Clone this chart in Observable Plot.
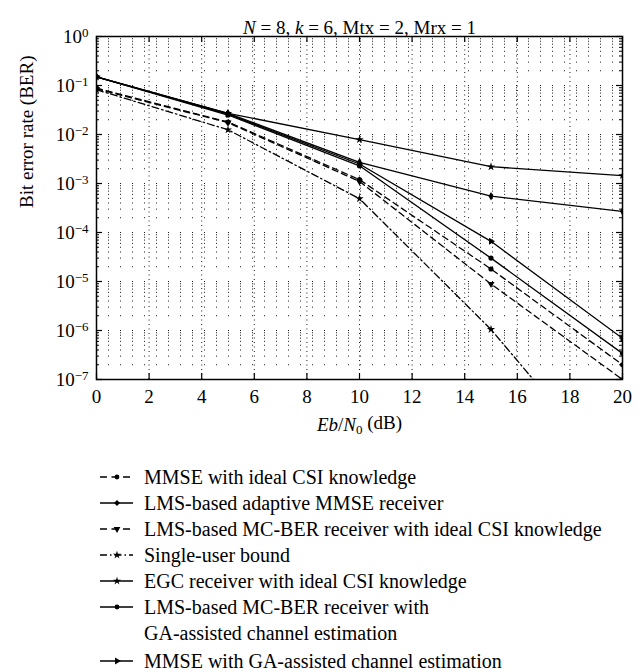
<!DOCTYPE html>
<html><head><meta charset="utf-8">
<script src="https://cdn.jsdelivr.net/npm/d3@7"></script>
<script src="https://cdn.jsdelivr.net/npm/@observablehq/plot@0.6"></script>
<style>
body{margin:0;background:#fff;font-family:"Liberation Serif",serif;color:#000;}
#chart svg{display:block;font-family:"Liberation Serif",serif;}
#legend{margin-top:14px;padding-left:100px;font-size:20px;}
.row{display:flex;align-items:flex-start;line-height:26px;height:26px;}
.row.two{height:52px;}
.row.gap{margin-top:2px;}
.row svg{flex:none;margin-right:10px;}
</style></head><body><div id="chart"></div><div id="legend"></div>
<script>
// ---- data ----
const ebn0 = [0, 5, 10, 15, 20];
const berMMSEIdeal   = [0.088, 0.018, 0.0012, 1.8e-5, 2.0e-7];
const berLMSAdaptive = [0.15, 0.027, 0.0027, 5.5e-4, 2.7e-4];
const berMCBERIdeal  = [0.085, 0.0175, 0.0011, 8.9e-6, 1.0e-7];
const berSingleUser  = [0.082, 0.0125, 4.9e-4, 1.05e-6, 7e-10];
const berEGC         = [0.15, 0.027, 0.0079, 2.2e-3, 1.45e-3];
const berMCBERGA     = [0.15, 0.025, 0.0023, 3.0e-5, 3.4e-7];
const berMMSEGA      = [0.15, 0.026, 0.0025, 6.6e-5, 6.9e-7];

const seriesNames = [
  "MMSE with ideal CSI knowledge",
  "LMS-based adaptive MMSE receiver",
  "LMS-based MC-BER receiver with ideal CSI knowledge",
  "Single-user bound",
  "EGC receiver with ideal CSI knowledge",
  "LMS-based MC-BER receiver with GA-assisted channel estimation",
  "MMSE with GA-assisted channel estimation"
];
const seriesValues = [berMMSEIdeal, berLMSAdaptive, berMCBERIdeal, berSingleUser, berEGC, berMCBERGA, berMMSEGA];

const xTicks = [0, 2, 4, 6, 8, 10, 12, 14, 16, 18, 20];
const yTicks = [1e-7, 1e-6, 1e-5, 1e-4, 1e-3, 1e-2, 1e-1, 1];
const titleText = "N = 8, k = 6, Mtx = 2, Mrx = 1";
const xLabel = "Eb/N0 (dB)";
const yLabel = "Bit error rate (BER)";

// ---- styles ----
const styles = [
  {dash: "6,4", symbol: "circle", rotate: 0},
  {dash: null, symbol: "diamond", rotate: 0},
  {dash: "6,4", symbol: "triangle", rotate: 180},
  {dash: "7,3,1.5,3", symbol: "star", rotate: 0},
  {dash: null, symbol: "star", rotate: 0},
  {dash: null, symbol: "circle", rotate: 0},
  {dash: null, symbol: "triangle", rotate: 90}
];

const rows = [];
seriesNames.forEach((name, i) => ebn0.forEach((x, j) => rows.push({series: name, idx: i, x, ber: seriesValues[i][j]})));

// minor grid values from the scale's decades
const yMinor = [];
yTicks.slice(0, -1).forEach(d => { for (let m = 2; m <= 9; m++) yMinor.push(d * m); });

const W = 643, H = 450, mL = 96, mR = 21, mT = 36, mB = 71;
const pw = W - mL - mR, ph = H - mT - mB;

const marks = [
  Plot.ruleY(yMinor.concat(yTicks), {y: d => d, stroke: "#000", strokeWidth: 0.9, strokeDasharray: "1,11"}),
  Plot.ruleX(xTicks, {x: d => d, stroke: "#000", strokeWidth: 0.9, strokeDasharray: "1,3.5"})
];
styles.forEach((s, i) => {
  const data = rows.filter(r => r.idx === i);
  marks.push(Plot.line(data, {x: "x", y: "ber", stroke: "#000", strokeWidth: 1.3, strokeDasharray: s.dash, clip: true}));
  marks.push(Plot.dot(data, {x: "x", y: "ber", symbol: s.symbol, rotate: s.rotate, r: 2.6, fill: "#000", stroke: "none", clip: true}));
});
marks.push(
  Plot.frame({stroke: "#000", strokeWidth: 1.5}),
  Plot.tickX(xTicks, {x: d => d, insetTop: ph - 6, strokeWidth: 1.2}),
  Plot.tickX(xTicks, {x: d => d, insetBottom: ph - 6, strokeWidth: 1.2}),
  Plot.tickY(yTicks, {y: d => d, insetRight: pw - 6, strokeWidth: 1.2}),
  Plot.tickY(yTicks, {y: d => d, insetLeft: pw - 6, strokeWidth: 1.2}),
  Plot.tickY(yMinor, {y: d => d, insetRight: pw - 3, strokeWidth: 1}),
  Plot.tickY(yMinor, {y: d => d, insetLeft: pw - 3, strokeWidth: 1}),
  Plot.axisX(xTicks, {tickSize: 0, tickPadding: 10, fontSize: 19, label: null}),
  Plot.axisY(yTicks, {tickSize: 0, tickPadding: 8, fontSize: 19, label: null,
    tickFormat: d => "10^" + Math.round(Math.log10(d))}),
  Plot.text([titleText], {text: d => d, frameAnchor: "top", dy: -16, fontSize: 19}),
  Plot.text([xLabel], {text: d => d, frameAnchor: "bottom", dy: 51, fontSize: 19}),
  Plot.text([yLabel], {text: d => d, frameAnchor: "left", dx: -70, rotate: -90, fontSize: 19})
);

const chart = Plot.plot({
  width: W, height: H,
  marginLeft: mL, marginRight: mR, marginTop: mT, marginBottom: mB,
  style: {fontFamily: "Liberation Serif", background: "#fff", color: "#000", overflow: "visible"},
  x: {domain: [0, 20], axis: null},
  y: {type: "log", domain: [1e-7, 1], axis: null},
  marks
});
document.getElementById("chart").appendChild(chart);

// ---- rich text (superscripts, italics, subscripts) ----
const NS = "http://www.w3.org/2000/svg";
function rich(el, parts) {
  el.textContent = "";
  for (const p of parts) {
    const t = document.createElementNS(NS, "tspan");
    t.textContent = p.t;
    if (p.i) t.setAttribute("font-style", "italic");
    if (p.dy) t.setAttribute("dy", p.dy);
    if (p.fs) t.setAttribute("font-size", p.fs);
    el.appendChild(t);
  }
}
chart.querySelectorAll("text").forEach(el => {
  const s = el.textContent;
  if (s.startsWith("10^")) {
    const e = s.slice(3).replace("-", "\u2212");
    rich(el, [{t: "10"}, {t: e, dy: "-0.45em", fs: "13px"}]);
  } else if (s === xLabel) {
    rich(el, [{t: "Eb", i: true}, {t: "/"}, {t: "N", i: true}, {t: "0", dy: "0.3em", fs: "13px"}, {t: " (dB)", dy: "-0.3em"}]);
  } else if (s === titleText) {
    rich(el, [{t: "N", i: true}, {t: " = 8, "}, {t: "k", i: true}, {t: " = 6, Mtx = 2, Mrx = 1"}]);
  }
});

// ---- legend ----
function legendSymbol(s) {
  const w = 34, h = 26, cy = 13;
  let sym = "";
  const sz = 3;
  if (s.symbol === "circle") sym = `<circle cx="17" cy="${cy}" r="2.4" fill="#000"/>`;
  else if (s.symbol === "diamond") sym = `<path d="M17,${cy-3}L20,${cy}L17,${cy+3}L14,${cy}Z" fill="#000"/>`;
  else if (s.symbol === "star") sym = `<path d="${d3.symbol(d3.symbolStar, 20)()}" transform="translate(17,${cy})" fill="#000"/>`;
  else if (s.symbol === "triangle") sym = `<path d="${d3.symbol(d3.symbolTriangle, 20)()}" transform="translate(17,${cy}) rotate(${s.rotate})" fill="#000"/>`;
  return `<svg width="${w}" height="${h}"><line x1="0" x2="${w-1}" y1="${cy}" y2="${cy}" stroke="#000" stroke-width="1.3" ${s.dash ? `stroke-dasharray="${s.dash === "6,4" ? "7,4.5" : "7,3,1.5,3"}"` : ""}/>${sym}</svg>`;
}
const legend = document.getElementById("legend");
seriesNames.forEach((name, i) => {
  const row = document.createElement("div");
  row.className = "row" + (i === 5 ? " two" : "") + (i === 6 ? " gap" : "");
  const label = i === 5 ? "LMS-based MC-BER receiver with<br>GA-assisted channel estimation" : name;
  row.innerHTML = legendSymbol(styles[i]) + `<span>${label}</span>`;
  legend.appendChild(row);
});
</script>
</body></html>
